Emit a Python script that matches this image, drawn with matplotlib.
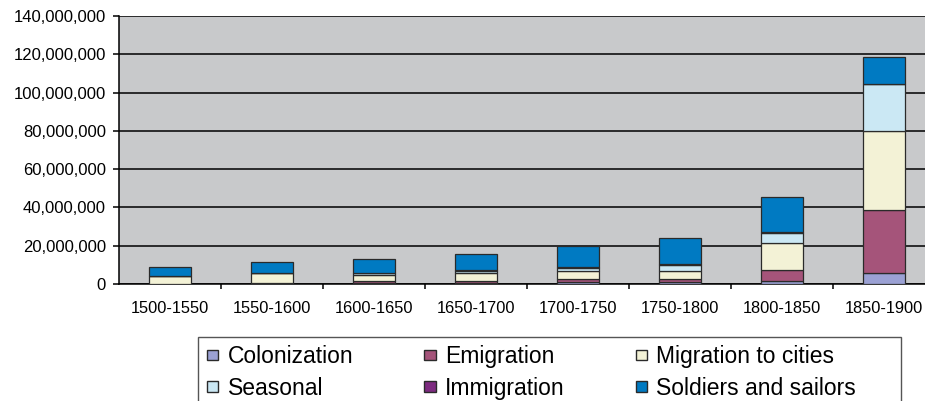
"""Migration by type, 1500-1900: stacked bars per half-century.

Output: out.png (925x401 px)
"""

import matplotlib
matplotlib.use("Agg")
import matplotlib.pyplot as plt
import numpy as np
from matplotlib.patches import Patch, Rectangle
from matplotlib.ticker import FixedLocator, StrMethodFormatter

# --- data (millions of people) --------------------------------------------
PERIODS = ["1500-1550", "1550-1600", "1600-1650", "1650-1700",
           "1700-1750", "1750-1800", "1800-1850", "1850-1900"]
colonization = [0.2, 0.3, 0.5, 0.5, 1.0, 1.0, 1.5, 5.8]
emigration = [0.0, 0.0, 1.1, 1.1, 1.5, 1.5, 6.0, 32.6]
migration_to_cities = [4.1, 5.3, 3.1, 4.2, 4.5, 4.5, 13.9, 41.6]
seasonal = [0.0, 0.0, 1.1, 1.2, 1.5, 3.0, 5.5, 24.3]
immigration = [0.0, 0.0, 0.1, 0.1, 0.2, 0.2, 0.3, 0.3]
soldiers_and_sailors = [4.5, 5.9, 7.2, 8.6, 11.1, 13.8, 18.4, 14.0]

# stacking order, bottom to top
SERIES = [
    ("Colonization", colonization, "#9ba1d4"),
    ("Emigration", emigration, "#a5547a"),
    ("Migration to cities", migration_to_cities, "#f3f2d6"),
    ("Seasonal", seasonal, "#cbe8f4"),
    ("Immigration", immigration, "#7d2a80"),
    ("Soldiers and sailors", soldiers_and_sailors, "#007ac2"),
]

HATTER = "#c8c9cb"
EL = "#2a2a2a"
FONT = ["Liberation Sans", "DejaVu Sans"]

W, H = 925, 401


def main() -> None:
    plt.rcParams["font.family"] = FONT
    fig = plt.figure(figsize=(W / 100, H / 100), dpi=100, facecolor="white")
    # plot area runs off the right edge, like the cropped scan
    ax = fig.add_axes([119 / W, (H - 284) / H, 816 / W, 268 / H])
    ax.set_facecolor(HATTER)

    x = np.arange(len(PERIODS))
    alja = np.zeros(len(PERIODS))
    for nev, ertek, szin in SERIES:
        v = np.asarray(ertek) * 1e6
        ax.bar(x, v, width=0.42, bottom=alja, color=szin, edgecolor=EL,
               linewidth=0.9, label=nev, zorder=3)
        alja += v

    ax.set_xlim(-0.5, len(PERIODS) - 0.5)
    ax.set_ylim(0, 140e6)
    ax.set_yticks(np.arange(0, 140e6 + 1, 20e6))
    ax.yaxis.set_major_formatter(StrMethodFormatter("{x:,.0f}"))
    ax.yaxis.grid(True, color="black", linewidth=1.1)
    ax.set_axisbelow(True)

    ax.set_xticks(x)
    ax.set_xticklabels(PERIODS)
    ax.xaxis.set_minor_locator(FixedLocator(x[:-1] + 0.5))
    ax.tick_params(axis="x", which="major", length=0, pad=12.5,
                   labelsize=11.8, colors="black")
    ax.tick_params(axis="x", which="minor", length=3.5, width=1.1,
                   direction="out", color="black")
    ax.tick_params(axis="y", length=4.5, width=1.1, pad=5.0,
                   labelsize=12, colors="black")

    for oldal in ("top", "right"):
        ax.spines[oldal].set_visible(False)
    for oldal in ("left", "bottom"):
        ax.spines[oldal].set_color("black")
        ax.spines[oldal].set_linewidth(1.1)

    # legend: column-wise order so the rows read like the original
    sorrend = [0, 3, 1, 4, 2, 5]
    kezelok = [Patch(facecolor=SERIES[i][2], edgecolor=EL, linewidth=1.0)
               for i in sorrend]
    cimkek = [SERIES[i][0] for i in sorrend]
    fig.legend(kezelok, cimkek, ncol=3, loc="upper left",
               bbox_to_anchor=(207 / W, 1 - 345 / H), frameon=False,
               fontsize=16.5, handlelength=0.5, handleheight=0.3,
               handletextpad=0.4, columnspacing=3.1, labelspacing=0.38,
               borderpad=0, borderaxespad=0)
    keret = Rectangle((198 / W, -0.05), 703 / W, (1 - 337 / H) + 0.05,
                      transform=fig.transFigure, fill=False,
                      edgecolor="#555555", linewidth=1.0, clip_on=False)
    fig.patches.append(keret)

    fig.savefig("out.png", dpi=100, facecolor="white")
    plt.close(fig)


if __name__ == "__main__":
    main()
